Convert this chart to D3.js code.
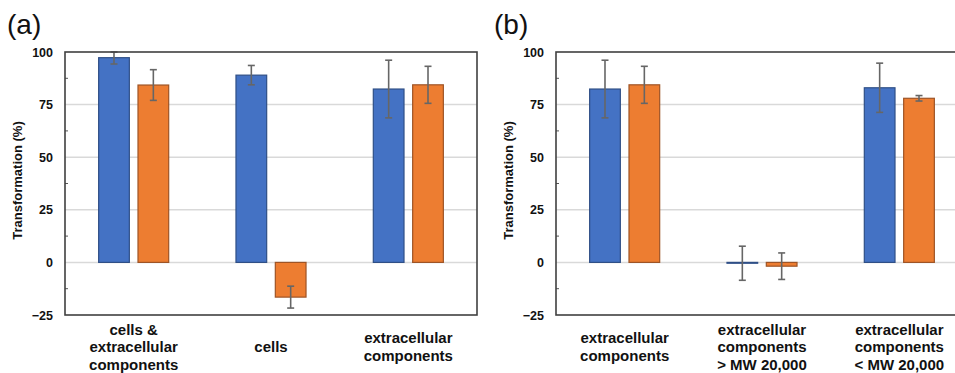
<!DOCTYPE html>
<html>
<head>
<meta charset="utf-8">
<script src="https://cdn.jsdelivr.net/npm/d3@7"></script>
<style>
	body { margin: 0; background: #fff; }
	text { font-family: "Liberation Sans", Arial, sans-serif; }
</style>
</head>
<body>
<script>
// data
var seriesNames = ['blue', 'orange'];
var colors = ['#4472C4', '#ED7D31'];
var strokes = ['#2F4F86', '#9E5426'];

var yTicks = [-25, 0, 25, 50, 75, 100];

var catsA = [
	['cells &', 'extracellular', 'components'],
	['cells'],
	['extracellular', 'components']
];
var blueA = [97.3, 89.0, 82.4];
var blueErrA = [3.0, 4.6, 13.7];
var orangeA = [84.3, -16.5, 84.4];
var orangeErrA = [7.3, 5.2, 8.8];

var catsB = [
	['extracellular', 'components'],
	['extracellular', 'components', '> MW 20,000'],
	['extracellular', 'components', '< MW 20,000']
];
var blueB = [82.4, -0.4, 83.0];
var blueErrB = [13.7, 8.1, 11.7];
var orangeB = [84.4, -1.8, 78.0];
var orangeErrB = [8.8, 6.3, 1.3];

var svg = d3.select('body')
	.append('svg')
	.attr('width', 955)
	.attr('height', 373);

drawPanel({ left: 65, label: '(a)', labelX: 7, cats: catsA, vals: [blueA, orangeA], errs: [blueErrA, orangeErrA] });
drawPanel({ left: 556, label: '(b)', labelX: 494, cats: catsB, vals: [blueB, orangeB], errs: [blueErrB, orangeErrB] });

function drawPanel (p) {
	var top = 52, bottom = 315, width = 412;
	var g = svg.append('g').attr('transform', 'translate(' + p.left + ',0)');

	var y = d3.scaleLinear().domain([-25, 100]).range([bottom, top]);
	var x0 = d3.scaleBand()
		.domain(d3.range(p.cats.length))
		.range([0, width])
		.paddingInner(0.49)
		.paddingOuter(0.245);
	var x1 = d3.scaleBand()
		.domain(seriesNames)
		.range([0, x0.bandwidth()])
		.paddingInner(0.22);

	// panel label
	svg.append('text')
		.attr('x', p.labelX)
		.attr('y', 34)
		.attr('font-size', 28)
		.attr('fill', '#111')
		.text(p.label);

	// gridlines
	g.selectAll('.grid')
		.data(yTicks.filter(function (d) { return d > -25 && d < 100; }))
		.enter().append('line')
		.attr('x1', 0).attr('x2', width)
		.attr('y1', function (d) { return y(d); })
		.attr('y2', function (d) { return y(d); })
		.attr('stroke', '#d9d9d9')
		.attr('stroke-width', 1.5);

	// minor ticks
	g.selectAll('.minor')
		.data(d3.range(-12.5, 100, 25))
		.enter().append('line')
		.attr('x1', 0).attr('x2', 3)
		.attr('y1', function (d) { return y(d); })
		.attr('y2', function (d) { return y(d); })
		.attr('stroke', '#555')
		.attr('stroke-width', 1);

	// y axis labels
	var y_axis = d3.axisLeft(y).tickValues(yTicks).tickSize(0).tickPadding(12);
	var ay = g.append('g').call(y_axis);
	ay.select('.domain').remove();
	ay.selectAll('text')
		.attr('font-size', 12.5)
		.attr('font-weight', 'bold')
		.attr('fill', '#111')
		.style('font-family', '"Liberation Sans", Arial, sans-serif');

	svg.append('text')
		.attr('transform', 'translate(' + (p.left - 43) + ',' + ((top + bottom) / 2 - 3) + ') rotate(-90)')
		.attr('text-anchor', 'middle')
		.attr('font-size', 13)
		.attr('font-weight', 'bold')
		.attr('fill', '#111')
		.text('Transformation (%)');

	// bars
	seriesNames.forEach(function (s, si) {
		var grp = g.append('g');
		grp.selectAll('rect')
			.data(p.vals[si])
			.enter().append('rect')
			.attr('x', function (d, i) { return x0(i) + x1(s); })
			.attr('y', function (d) { return y(Math.max(d, 0)); })
			.attr('width', x1.bandwidth())
			.attr('height', function (d) { return Math.abs(y(d) - y(0)); })
			.attr('fill', colors[si])
			.attr('stroke', strokes[si])
			.attr('stroke-width', 1.2);

		// error bars
		var eg = grp.selectAll('.err')
			.data(p.vals[si].map(function (v, i) { return { v: v, e: p.errs[si][i], i: i }; }))
			.enter().append('g')
			.attr('stroke', '#666')
			.attr('stroke-width', 1.6);
		var cx = function (d) { return x0(d.i) + x1(s) + x1.bandwidth() / 2; };
		eg.append('line')
			.attr('x1', cx).attr('x2', cx)
			.attr('y1', function (d) { return y(Math.min(d.v + d.e, 100)); })
			.attr('y2', function (d) { return y(d.v - d.e); });
		eg.append('line')
			.attr('x1', function (d) { return cx(d) - 3.5; })
			.attr('x2', function (d) { return cx(d) + 3.5; })
			.attr('y1', function (d) { return y(Math.min(d.v + d.e, 100)); })
			.attr('y2', function (d) { return y(Math.min(d.v + d.e, 100)); });
		eg.append('line')
			.attr('x1', function (d) { return cx(d) - 3.5; })
			.attr('x2', function (d) { return cx(d) + 3.5; })
			.attr('y1', function (d) { return y(d.v - d.e); })
			.attr('y2', function (d) { return y(d.v - d.e); });
	});

	// frame
	g.append('rect')
		.attr('x', 0).attr('y', top)
		.attr('width', width).attr('height', bottom - top)
		.attr('fill', 'none')
		.attr('stroke', '#404040')
		.attr('stroke-width', 1.6);

	// category labels
	var lineH = 17.5;
	var labels = g.selectAll('.cat')
		.data(p.cats)
		.enter().append('text')
		.attr('text-anchor', 'middle')
		.attr('font-size', 15)
		.attr('font-weight', 'bold')
		.attr('fill', '#111');
	labels.each(function (lines, i) {
		var t = d3.select(this);
		var cx = x0(i) + x0.bandwidth() / 2;
		var y0 = 352 - (lines.length - 1) * lineH / 2;
		lines.forEach(function (l, k) {
			t.append('tspan')
				.attr('x', cx)
				.attr('y', y0 + k * lineH)
				.text(l);
		});
	});
}
</script>
</body>
</html>
